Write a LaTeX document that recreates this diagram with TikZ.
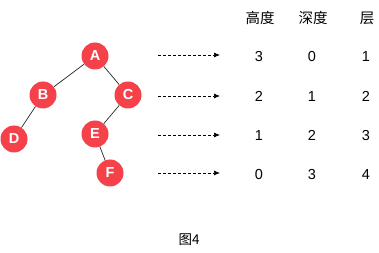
\documentclass[tikz,border=0pt]{standalone}
\usepackage{fontspec}
\setmainfont{Liberation Sans}
\newfontfamily\cjk{Noto Sans CJK SC}
\usetikzlibrary{arrows.meta}
\definecolor{nodered}{HTML}{F4414A}
\tikzset{
  treenode/.style={circle,fill=nodered,minimum size=27pt,inner sep=0pt,text=white,font=\fontsize{14.5}{14.5}\selectfont\bfseries},
  edge/.style={draw=black!85,line width=0.7pt},
  darrow/.style={dashed,dash pattern=on 3pt off 2pt,-{Latex[length=6pt,width=5pt]},line width=0.7pt},
  lbl/.style={font=\fontsize{14.5}{14.5}\selectfont,text height=10.4pt,text depth=0pt,inner sep=0pt},
  hdr/.style={font=\cjk\fontsize{14.5}{14.5}\selectfont}
}
\begin{document}
\begin{tikzpicture}[x=1pt,y=-1pt]
\useasboundingbox (0,0) rectangle (379,253);
\node[treenode] (A) at (95,56) {A};
\node[treenode] (B) at (43,95) {B};
\node[treenode] (C) at (128,95) {C};
\node[treenode] (D) at (14,139) {D};
\node[treenode] (E) at (95,134) {E};
\node[treenode] (F) at (110,173) {F};
\draw[edge] (A) -- (B);
\draw[edge] (A) -- (C);
\draw[edge] (B) -- (D);
\draw[edge] (C) -- (E);
\draw[edge] (E) -- (F);
\foreach \r/\y in {1/55,2/96,3/135,4/173}{
  \coordinate (s\r) at (158,\y);
  \coordinate (t\r) at (220,\y);
  \draw[darrow] (s\r) -- (t\r);
}
\node[hdr] (h1) at (260,18) {高度};
\node[hdr] (h2) at (313,18) {深度};
\node[hdr] (h3) at (367,18) {层};
\foreach \r/\y/\a/\b/\c in {1/56/3/0/1,2/96/2/1/2,3/135/1/2/3,4/174/0/3/4}{
  \node[lbl] (a\r) at (259,\y) {\a};
  \node[lbl] (b\r) at (312,\y) {\b};
  \node[lbl] (c\r) at (366,\y) {\c};
}
\node[font=\cjk\fontsize{13.5}{13.5}\selectfont] (cap) at (189,240) {图4};
\end{tikzpicture}
\end{document}
